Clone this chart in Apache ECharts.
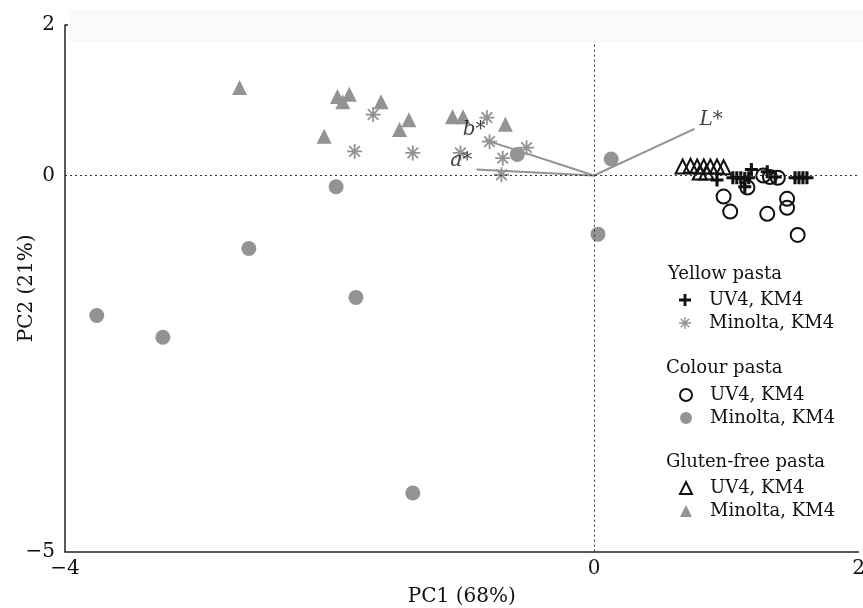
<!DOCTYPE html>
<html>
<head>
<meta charset="utf-8">
<script src="https://cdn.jsdelivr.net/npm/echarts@6/dist/echarts.min.js"></script>
<style>
  html, body { margin: 0; padding: 0; background: #fff; }
  #chart { width: 863px; height: 608px; }
</style>
</head>
<body>
<div id="chart"></div>
<script>
const varFont = 'DejaVu Serif';
const grey = '#939393';

// axis ticks shown on the picture
const xTicks = [-4, 0, 2];
const yTicks = [-5, 0, 2];

// PC1, PC2 scores
const yellowUV4 = [
    [0.93, -0.06], [1.05, -0.03], [1.08, -0.03], [1.11, -0.03], [1.14, -0.04],
    [1.17, -0.03], [1.14, -0.15], [1.19, 0.08], [1.31, 0.05], [1.37, -0.02],
    [1.52, -0.03], [1.55, -0.03], [1.58, -0.03], [1.61, -0.03]
];
const yellowMinolta = [
    [-1.67, 0.81], [-1.81, 0.32], [-1.37, 0.30], [-1.01, 0.30], [-0.81, 0.77],
    [-0.79, 0.45], [-0.69, 0.23], [-0.70, 0.01], [-0.51, 0.37]
];
const colourUV4 = [
    [0.98, -0.28], [1.03, -0.48], [1.31, -0.51], [1.46, -0.31], [1.46, -0.43],
    [1.54, -0.79], [1.16, -0.16], [1.28, 0.00], [1.33, -0.02], [1.39, -0.03]
];
const colourMinolta = [
    [-1.95, -0.15], [-2.61, -0.97], [-3.76, -1.86], [-3.26, -2.15], [-1.80, -1.62],
    [-1.37, -4.22], [0.03, -0.78], [0.13, 0.22], [-0.58, 0.28]
];
const glutenUV4 = [
    [0.67, 0.12], [0.73, 0.13], [0.78, 0.12], [0.83, 0.12], [0.88, 0.12],
    [0.93, 0.12], [0.98, 0.11], [0.80, 0.04], [0.85, 0.04]
];
const glutenMinolta = [
    [-2.68, 1.17], [-1.94, 1.05], [-1.85, 1.08], [-1.90, 0.98], [-1.61, 0.98],
    [-2.04, 0.52], [-1.40, 0.74], [-1.47, 0.61], [-1.07, 0.78], [-0.99, 0.78],
    [-0.67, 0.68]
];

// loading vectors
const loadingNames = ['L*', 'b*', 'a*'];
const loadingValues = [[0.76, 0.62], [-0.82, 0.47], [-0.89, 0.08]];

const legendText = {
    'yellow-uv4': 'UV4, KM4',
    'yellow-minolta': 'Minolta, KM4',
    'colour-uv4': 'UV4, KM4',
    'colour-minolta': 'Minolta, KM4',
    'gluten-uv4': 'UV4, KM4',
    'gluten-minolta': 'Minolta, KM4'
};

const plusPath = 'path://M-0.24,-1 L0.24,-1 L0.24,-0.24 L1,-0.24 L1,0.24 L0.24,0.24 L0.24,1 L-0.24,1 L-0.24,0.24 L-1,0.24 L-1,-0.24 L-0.24,-0.24 Z';
const starPath = 'path://M-1,-0.12 L1,-0.12 L1,0.12 L-1,0.12 Z ' +
    'M-0.12,-1 L0.12,-1 L0.12,1 L-0.12,1 Z ' +
    'M-0.622,-0.792 L0.792,0.622 L0.622,0.792 L-0.792,-0.622 Z ' +
    'M-0.792,0.622 L0.622,-0.792 L0.792,-0.622 L-0.622,0.792 Z';

function scatterSeries(name, data, symbol, size, style) {
    return {
        name: name,
        type: 'scatter',
        data: data,
        symbol: symbol,
        symbolSize: size,
        itemStyle: Object.assign({ opacity: 1 }, style),
        silent: true,
        z: 3
    };
}

function legendGroup(names, top) {
    return {
        data: names,
        orient: 'vertical',
        left: 679,
        top: top,
        padding: 0,
        itemWidth: 12,
        itemHeight: 12,
        itemGap: 5,
        selectedMode: false,
        formatter: (name) => legendText[name],
        textStyle: { fontFamily: varFont, fontSize: 18, color: '#111', lineHeight: 18, padding: [0, 0, 0, 13] }
    };
}

var myChart = echarts.init(document.getElementById('chart'));

var option = {
    animation: false,
    textStyle: { fontFamily: varFont },
    grid: { left: 65, right: 4.5, top: 25, bottom: 56.3, containLabel: false, outerBoundsMode: 'none' },
    xAxis: {
        type: 'value',
        min: -4,
        max: 2,
        name: 'PC1 (68%)',
        nameLocation: 'middle',
        nameGap: 35,
        nameMoveOverlap: false,
        nameTextStyle: { fontFamily: varFont, fontSize: 20, color: '#111' },
        axisLine: { onZero: false, lineStyle: { color: '#222', width: 1.5 } },
        axisTick: { show: false },
        splitLine: { show: false },
        axisLabel: {
            customValues: xTicks,
            fontSize: 20,
            color: '#111',
            margin: 7,
            formatter: (v) => v < 0 ? '\u2212' + Math.abs(v) : String(v)
        }
    },
    yAxis: {
        type: 'value',
        min: -5,
        max: 2,
        name: 'PC2 (21%)',
        nameLocation: 'middle',
        nameGap: 28,
        nameMoveOverlap: false,
        nameTextStyle: { fontFamily: varFont, fontSize: 20, color: '#111' },
        axisLine: { onZero: false, lineStyle: { color: '#222', width: 1.5 } },
        axisTick: { show: true, inside: true, length: 3, customValues: [2], lineStyle: { color: '#222', width: 1.5 } },
        splitLine: { show: false },
        axisLabel: {
            customValues: yTicks,
            fontSize: 20,
            color: '#111',
            margin: 10,
            formatter: (v) => v < 0 ? '\u2212' + Math.abs(v) : String(v)
        }
    },
    legend: [
        legendGroup(['yellow-uv4', 'yellow-minolta'], 291),
        legendGroup(['colour-uv4', 'colour-minolta'], 386),
        legendGroup(['gluten-uv4', 'gluten-minolta'], 479)
    ],
    graphic: [
        {
            type: 'rect', left: 69, top: 10, z: 100, silent: true,
            shape: { width: 794, height: 32 },
            style: { fill: '#fafafa' }
        },
        {
            type: 'text', left: 668, top: 265, silent: true,
            style: { text: 'Yellow pasta', font: '18px "DejaVu Serif"', fill: '#111' }
        },
        {
            type: 'text', left: 666, top: 359, silent: true,
            style: { text: 'Colour pasta', font: '18px "DejaVu Serif"', fill: '#111' }
        },
        {
            type: 'text', left: 666, top: 453, silent: true,
            style: { text: 'Gluten-free pasta', font: '18px "DejaVu Serif"', fill: '#111' }
        }
    ],
    series: [
        {
            type: 'lines',
            coordinateSystem: 'cartesian2d',
            silent: true,
            z: 2,
            lineStyle: { color: grey, width: 2, opacity: 1 },
            data: loadingValues.map((v) => ({ coords: [[0, 0], v] })),
            markLine: {
                silent: true,
                symbol: 'none',
                label: { show: false },
                lineStyle: { color: '#333', width: 1, type: [2, 3] },
                data: [{ xAxis: 0 }, { yAxis: 0 }]
            }
        },
        {
            type: 'scatter',
            silent: true,
            symbolSize: 0,
            z: 4,
            data: loadingValues.map((v, i) => ({
                value: v,
                label: {
                    show: true,
                    formatter: loadingNames[i],
                    fontFamily: varFont,
                    fontStyle: 'italic',
                    fontSize: 20,
                    color: '#111',
                    position: i === 0 ? 'right' : 'left',
                    distance: i === 0 ? 5 : 0,
                    offset: i === 0 ? [0, -9] : (i === 1 ? [0, -10] : [-4, -9])
                }
            }))
        },
        scatterSeries('yellow-minolta', yellowMinolta, starPath, 15, { color: grey }),
        scatterSeries('colour-minolta', colourMinolta, 'circle', 15, { color: grey }),
        scatterSeries('gluten-minolta', glutenMinolta, 'triangle', 15, { color: grey }),
        scatterSeries('yellow-uv4', yellowUV4, plusPath, 13, { color: '#111' }),
        scatterSeries('colour-uv4', colourUV4, 'circle', 14, { color: 'rgba(0,0,0,0)', borderColor: '#111', borderWidth: 2 }),
        scatterSeries('gluten-uv4', glutenUV4, 'triangle', 14, { color: 'rgba(0,0,0,0)', borderColor: '#111', borderWidth: 2 })
    ]
};

myChart.setOption(option);
</script>
</body>
</html>
